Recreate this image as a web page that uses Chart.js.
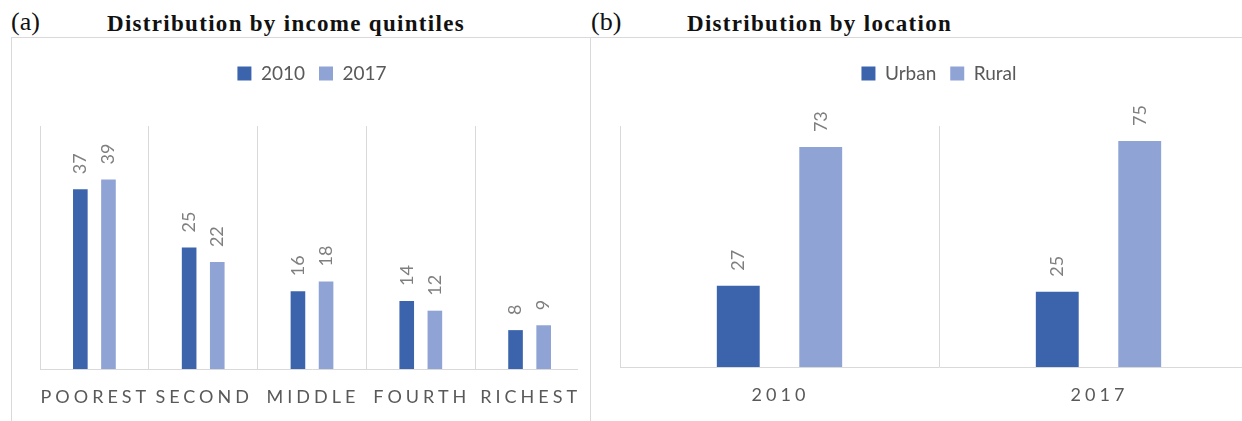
<!DOCTYPE html>
<html>
<head>
<meta charset="utf-8">
<script src="https://cdn.jsdelivr.net/npm/chart.js@4.4.1/dist/chart.umd.min.js"></script>
<style>
  body { margin: 0; width: 1242px; height: 421px; overflow: hidden; background: #fff; position: relative; }
  .tag { position: absolute; top: 9px; font-family: "Liberation Serif", serif; font-size: 26px; line-height: 26px; color: #111; }
  .ttl { position: absolute; top: 12px; font-family: "Liberation Serif", serif; font-weight: bold; font-size: 23px; line-height: 23px; letter-spacing: 1.3px; color: #111; }
  .box { position: absolute; top: 37px; height: 420px; box-sizing: border-box; border: 1px solid #d9d9d9; border-bottom: none; }
  .wrap { position: absolute; top: 0; height: 421px; overflow: hidden; }
</style>
</head>
<body>
<div class="box" style="left:11px;width:580px"></div>
<div class="box" style="left:590px;width:700px"></div>
<div class="tag" style="left:11px">(a)</div>
<div class="ttl" style="left:107px">Distribution by income quintiles</div>
<div class="tag" style="left:591px">(b)</div>
<div class="ttl" style="left:687px">Distribution by location</div>

<div class="wrap" style="left:0;width:578px"><canvas id="quintiles" width="600" height="421"></canvas></div>
<div class="wrap" style="left:600px;width:642px"><canvas id="location" width="680" height="421"></canvas></div>

<script>
// data
const quintiles = ["POOREST", "SECOND", "MIDDLE", "FOURTH", "RICHEST"];
const share2010 = [37, 25, 16, 14, 8];
const share2017 = [39, 22, 18, 12, 9];

const years = ["2010", "2017"];
const urban = [27, 25];
const rural = [73, 75];

const DARK = "#3b64ad";
const LIGHT = "#8fa4d4";

Chart.defaults.font.family = "Lato";
Chart.defaults.animation = false;

// rotated value labels above each bar
const barLabels = {
  id: "barLabels",
  afterDatasetsDraw(chart) {
    const ctx = chart.ctx;
    ctx.save();
    ctx.font = "18px Lato";
    ctx.fillStyle = "#7f7f7f";
    ctx.textAlign = "left";
    ctx.textBaseline = "middle";
    chart.data.datasets.forEach((ds, i) => {
      chart.getDatasetMeta(i).data.forEach((bar, j) => {
        ctx.save();
        ctx.translate(bar.x, bar.y - 15);
        ctx.rotate(-Math.PI / 2);
        ctx.fillText(ds.data[j], 0, 0);
        ctx.restore();
      });
    });
    ctx.restore();
  }
};

// letter-spaced category labels under the axis
const spacedTicks = {
  id: "spacedTicks",
  afterDraw(chart) {
    const x = chart.scales.x, ctx = chart.ctx;
    ctx.save();
    ctx.font = "18px Lato";
    ctx.letterSpacing = "4px";
    ctx.fillStyle = "#595959";
    ctx.textAlign = "center";
    ctx.textBaseline = "alphabetic";
    chart.data.labels.forEach((l, i) => {
      ctx.fillText(l, x.getPixelForTick(i) + 1, chart.chartArea.bottom + 34);
    });
    ctx.restore();
  }
};

// extra room under the legend
const legendGap = {
  id: "legendGap",
  beforeInit(chart) {
    const fit = chart.legend.fit;
    chart.legend.fit = function () {
      fit.call(this);
      this.height += 33;
    };
  }
};

function makeChart(id, labels, sets, yMax, pad) {
  return new Chart(document.getElementById(id), {
    type: "bar",
    data: {
      labels: labels,
      datasets: sets.map(s => ({
        label: s.label,
        data: s.data,
        backgroundColor: s.color,
        borderWidth: 0,
        categoryPercentage: 0.517,
        barPercentage: 0.52
      }))
    },
    options: {
      responsive: false,
      layout: { padding: pad },
      plugins: {
        legend: {
          position: "top",
          labels: {
            boxWidth: 14,
            boxHeight: 14,
            padding: 14,
            color: "#595959",
            font: { size: 19 }
          }
        },
        tooltip: { enabled: false }
      },
      scales: {
        x: {
          grid: { color: "#d9d9d9", drawTicks: false, offset: true },
          border: { color: "#d9d9d9" },
          ticks: { display: false }
        },
        y: { display: false, min: 0, max: yMax }
      }
    },
    plugins: [barLabels, spacedTicks, legendGap]
  });
}

makeChart("quintiles", quintiles, [
  { label: "2010", data: share2010, color: DARK },
  { label: "2017", data: share2017, color: LIGHT }
], 50, { left: 40, right: 16, top: 50, bottom: 52 });

makeChart("location", years, [
  { label: "Urban", data: urban, color: DARK },
  { label: "Rural", data: rural, color: LIGHT }
], 80, { left: 20, right: 22, top: 50, bottom: 54 });
</script>
</body>
</html>
